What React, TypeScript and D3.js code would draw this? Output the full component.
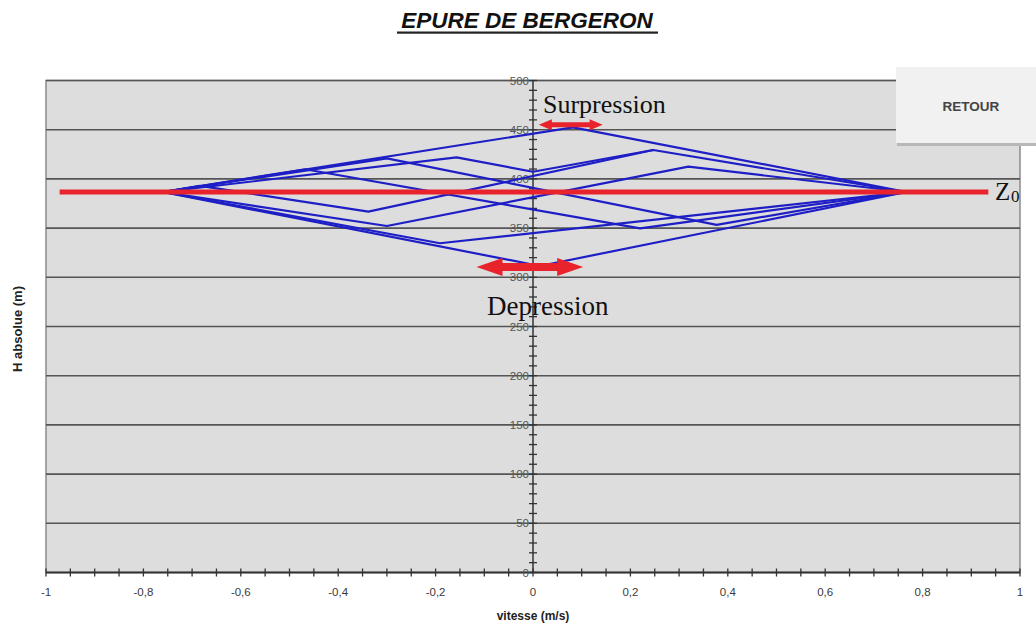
import React from "react";
import * as d3 from "d3";

// ---- data ----
const xTicks = [-1, -0.8, -0.6, -0.4, -0.2, 0, 0.2, 0.4, 0.6, 0.8, 1];
const yTicks = [0, 50, 100, 150, 200, 250, 300, 350, 400, 450, 500];
const Z0 = 386.7;
const z0Line = [[-0.972, Z0], [0.935, Z0]];

// Bergeron traces: [vitesse, H]
const traceOuter = [[-0.76, 386.7], [0.082, 452.4], [0.767, 386.7], [0.014, 311.5], [-0.76, 386.7]];
const trace1 = [[-0.76, 386.7], [-0.468, 409.8], [0.22, 349.8], [0.767, 386.7]];
const trace2 = [[-0.76, 386.7], [-0.3, 420.9], [0.377, 353.2], [0.767, 386.7]];
const trace3 = [[-0.76, 386.7], [-0.157, 421.9], [0.0, 407.3], [0.247, 429.4], [0.767, 386.7]];
const trace4 = [[-0.76, 386.7], [-0.3, 352.1], [0.319, 412.4], [0.767, 386.7]];
const trace5 = [[-0.76, 386.7], [-0.684, 392.9], [-0.338, 366.7], [0.247, 429.4]];
const trace6 = [[-0.76, 386.7], [-0.191, 334.6], [0.767, 386.7]];
const traces = [traceOuter, trace1, trace2, trace3, trace4, trace5, trace6];

// annotation arrows [v1, v2, H]
const arrowSur = [0.012, 0.143, 455];
const arrowDep = [-0.116, 0.103, 310.5];

const W = 1036, H = 630;
const x = d3.scaleLinear().domain([-1, 1]).range([46, 1020]);
const y = d3.scaleLinear().domain([0, 500]).range([572.5, 80.5]);

const fmt = (v: number) => (Math.abs(v) < 1e-9 ? "0" : String(+v.toFixed(1)).replace(".", ","));

function Arrow({ a, shaft, headL, headH }: { a: number[]; shaft: number; headL: number; headH: number }) {
  const x1 = x(a[0]), x2 = x(a[1]), yy = y(a[2]);
  const d = `M${x1},${yy} L${x1 + headL},${yy - headH / 2} L${x1 + headL},${yy - shaft / 2} L${x2 - headL},${yy - shaft / 2} L${x2 - headL},${yy - headH / 2} L${x2},${yy} L${x2 - headL},${yy + headH / 2} L${x2 - headL},${yy + shaft / 2} L${x1 + headL},${yy + shaft / 2} L${x1 + headL},${yy + headH / 2} Z`;
  return <path d={d} fill="#e8232c" />;
}

export default function App() {
  const line = d3.line<number[]>().x((d) => x(d[0])).y((d) => y(d[1]));
  const xMinor = d3.range(-1, 1.0001, 0.05);
  const yMinor = d3.range(0, 500.001, 10);
  const axX = x(0), axY = y(0);
  return (
    <div style={{ position: "absolute", left: 0, top: 0 }}>
      <svg width={W} height={H} style={{ display: "block", fontFamily: "Arial, 'Liberation Sans', sans-serif" }}>
        <rect x={0} y={0} width={W} height={H} fill="#ffffff" />
        {/* title */}
        <text x={527} y={28} textAnchor="middle" fontSize={22.5} fontWeight="bold" fontStyle="italic" fill="#111">EPURE DE BERGERON</text>
        <rect x={397} y={31.5} width={261} height={2.2} fill="#222" />
        {/* plot area */}
        <rect x={x(-1)} y={y(500)} width={x(1) - x(-1)} height={y(0) - y(500)} fill="#dddddd" stroke="#8a8a8a" strokeWidth={1.5} />
        {yTicks.filter((t) => t > 0).map((t) => (
          <line key={"g" + t} x1={x(-1)} x2={x(1)} y1={y(t)} y2={y(t)} stroke="#555" strokeWidth={1.6} />
        ))}
        {/* axes */}
        <line x1={x(-1)} x2={x(1)} y1={axY} y2={axY} stroke="#333" strokeWidth={1.8} />
        <line x1={axX} x2={axX} y1={y(0)} y2={y(500)} stroke="#333" strokeWidth={1.5} />
        {xMinor.map((t, i) => (
          <line key={"xm" + i} x1={x(t)} x2={x(t)} y1={axY - 4} y2={axY + 4} stroke="#333" strokeWidth={1.3} />
        ))}
        {yMinor.map((t, i) => (
          <line key={"ym" + i} x1={axX - 4} x2={axX + 4} y1={y(t)} y2={y(t)} stroke="#333" strokeWidth={1.3} />
        ))}
        {xTicks.map((t) => (
          <text key={"xl" + t} x={x(t)} y={596} textAnchor="middle" fontSize={11.5} fill="#3a3a3a">{fmt(t)}</text>
        ))}
        {yTicks.map((t) => (
          <text key={"yl" + t} x={axX - 4} y={y(t) + 4} textAnchor="end" fontSize={11.5} fill="#555">{t}</text>
        ))}
        <text x={533} y={620} textAnchor="middle" fontSize={12} fontWeight="bold" fill="#222">vitesse (m/s)</text>
        <text transform={`translate(22,${329}) rotate(-90)`} textAnchor="middle" fontSize={13} fontWeight="bold" fill="#222">H absolue (m)</text>
        {/* Bergeron lines */}
        {traces.map((tr, i) => (
          <path key={"tr" + i} d={line(tr) || ""} fill="none" stroke="#1e1ec6" strokeWidth={2.2} strokeLinejoin="round" />
        ))}
        {/* Z0 line */}
        <path d={line(z0Line) || ""} stroke="#e8232c" strokeWidth={5} fill="none" />
        <text x={995} y={200} fontFamily="'Liberation Serif', 'Times New Roman', serif" fontSize={25} fill="#111">Z</text>
        <text x={1011} y={202} fontFamily="'Liberation Serif', 'Times New Roman', serif" fontSize={17} fill="#111">0</text>
        {/* annotations */}
        <Arrow a={arrowSur} shaft={5} headL={13} headH={11} />
        <Arrow a={arrowDep} shaft={8} headL={26} headH={18} />
        <text x={543} y={113} fontFamily="'Liberation Serif', 'Times New Roman', serif" fontSize={26} fill="#111">Surpression</text>
        <text x={487} y={315} fontFamily="'Liberation Serif', 'Times New Roman', serif" fontSize={27} fill="#111">Depression</text>
        {/* RETOUR button */}
        <rect x={897} y={69} width={145} height={77} fill="#b8b8b8" />
        <rect x={896} y={67} width={145} height={76} fill="#f1f1f1" />
        <text x={971} y={111} textAnchor="middle" fontSize={13.5} fontWeight="bold" fill="#444">RETOUR</text>
      </svg>
    </div>
  );
}
